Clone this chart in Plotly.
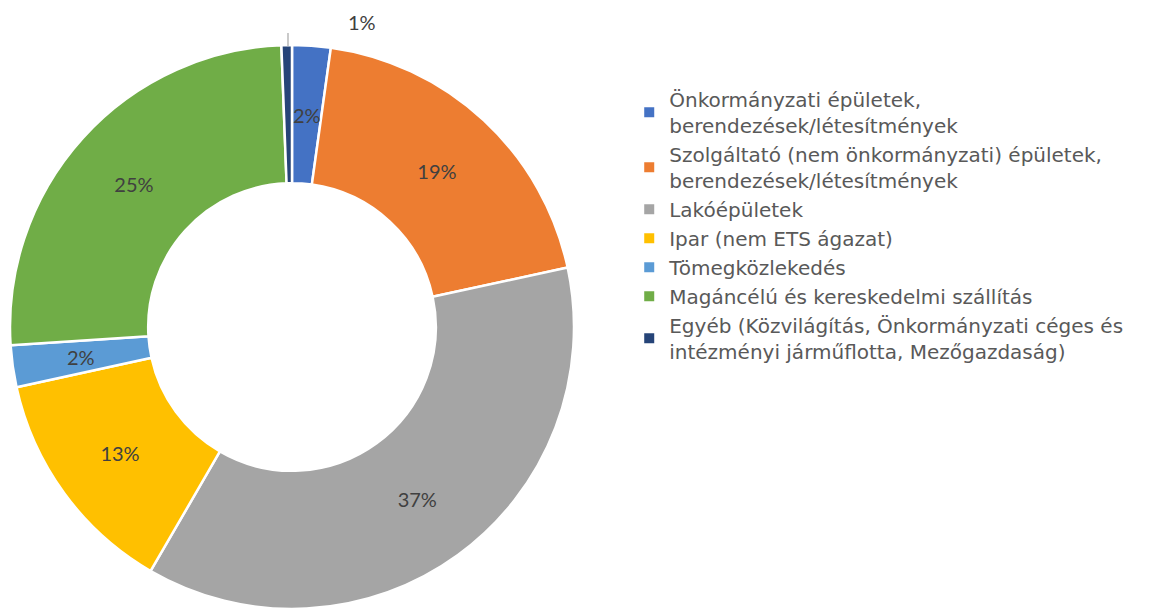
import math
import plotly.graph_objects as go

labels = [
    "Önkormányzati épületek,<br>berendezések/létesítmények",
    "Szolgáltató (nem önkormányzati) épületek,<br>berendezések/létesítmények",
    "Lakóépületek",
    "Ipar (nem ETS ágazat)",
    "Tömegközlekedés",
    "Magáncélú és kereskedelmi szállítás",
    "Egyéb (Közvilágítás, Önkormányzati céges és<br>intézményi járműflotta, Mezőgazdaság)",
]
values = [2.2, 19.4, 36.7, 13.2, 2.4, 25.4, 0.6]
colors = ["#4472C4", "#ED7D31", "#A5A5A5", "#FFC000", "#5B9BD5", "#70AD47", "#264478"]
# small slices get their labels placed at the ring middle (as in the original)
text_positions = ["none", "inside", "inside", "inside", "none", "inside", "none"]

W, H = 1159, 609
HOLE = 0.51
# pie geometry in paper pixels (page body has an 8px offset)
dom_x = [2, 566]
dom_y = [8, 572]  # from bottom
cx = (dom_x[0] + dom_x[1]) / 2
cy = (dom_y[0] + dom_y[1]) / 2
R = (dom_x[1] - dom_x[0]) / 2

LABEL_FONT = dict(family="Lato, Carlito, sans-serif", size=20, color="#404040")

fig = go.Figure(go.Pie(
    labels=labels,
    values=values,
    hole=HOLE,
    sort=False,
    direction="clockwise",
    rotation=0,
    marker=dict(colors=colors, line=dict(color="white", width=2.5)),
    texttemplate="%{percent:.0%}",
    textposition=text_positions,
    insidetextorientation="horizontal",
    textfont=LABEL_FONT,
    domain=dict(x=[dom_x[0] / W, dom_x[1] / W], y=[dom_y[0] / H, dom_y[1] / H]),
))

# labels for the two small inner slices, at mid-ring of their angle
total = sum(values)
cum = 0.0
r_mid = R * (1 + HOLE) / 2
for i, v in enumerate(values):
    mid = (cum + v / 2) / total
    cum += v
    if i in (0, 4):
        th = 2 * math.pi * mid
        fig.add_annotation(
            x=(cx + r_mid * math.sin(th)) / W, y=(cy + r_mid * math.cos(th)) / H,
            xref="paper", yref="paper", showarrow=False,
            xanchor="center", yanchor="middle",
            text=f"{round(100 * v / total)}%", font=LABEL_FONT,
        )

# outside label for the smallest slice with leader line
fig.add_annotation(
    x=354 / W, y=1.0, xref="paper", yref="paper", showarrow=False,
    xanchor="center", yanchor="top",
    text=f"{max(1, round(100 * values[6] / total))}%", font=LABEL_FONT,
)
fig.add_shape(type="line", xref="paper", yref="paper",
              x0=280 / W, x1=280 / W, y0=(H - 25) / H, y1=(H - 38) / H,
              line=dict(color="#A6A6A6", width=1.2))

fig.update_layout(
    width=W, height=H,
    margin=dict(l=0, r=0, t=0, b=0),
    paper_bgcolor="white",
    plot_bgcolor="white",
    uniformtext=dict(minsize=20, mode="show"),
    legend=dict(
        x=0.536, y=0.882, xanchor="left", yanchor="top",
        font=dict(family="DejaVu Sans, sans-serif", size=20, color="#595959"),
        tracegroupgap=0, itemsizing="constant",
    ),
)

fig.write_html("out.html")
